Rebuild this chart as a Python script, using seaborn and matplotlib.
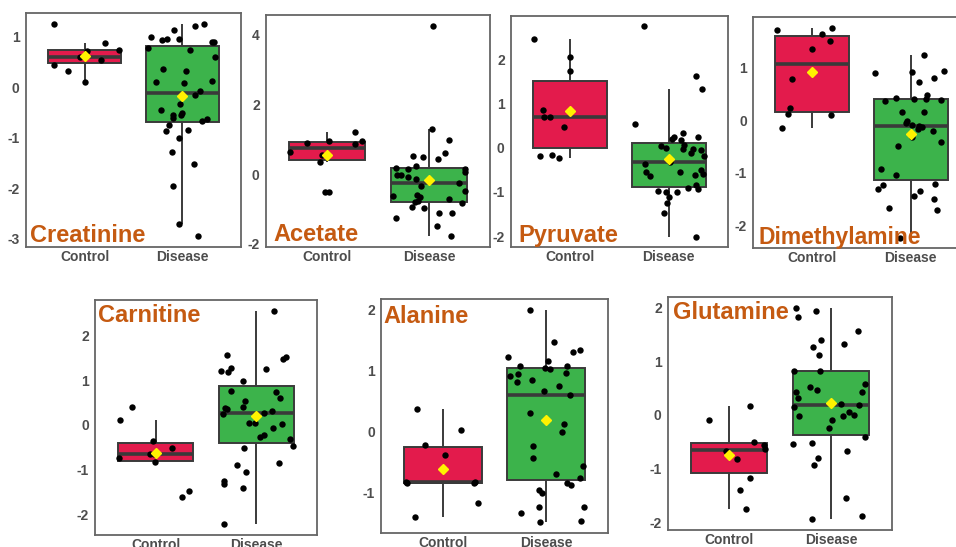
import numpy as np
import pandas as pd
import matplotlib
matplotlib.use("Agg")
import matplotlib.pyplot as plt
from matplotlib.ticker import MultipleLocator
import seaborn as sns

# ---- data: scaled metabolite levels per subject ----
groups = ["Control", "Disease"]

creatinine_control = [1.26, 0.88, 0.59, 0.55, 0.74, 0.72, 0.59, 0.45, 0.33, 0.11]
creatinine_disease = [1.21, 1.25, 1.14, 0.99, 0.95, 0.90, 0.93, 0.95, 0.90, 0.78, 0.73, 0.59,
                      0.36, 0.33, 0.13, 0.11, 0.08, -0.07, -0.16, -0.33, -0.44, -0.51, -0.55,
                      -0.55, -0.61, -0.62, -0.66, -0.74, -0.84, -0.86, -1.01, -1.29, -1.51,
                      -1.96, -2.70, -2.95]

acetate_control = [1.21, 0.96, 0.87, 0.94, 0.89, 0.63, 0.54, 0.36, -0.52, -0.50]
acetate_disease = [4.27, 1.31, 0.99, 0.61, 0.44, 0.50, 0.52, 0.16, 0.22, 0.16, 0.18, 0.06,
                   -0.01, -0.14, -0.02, -0.09, -0.35, -0.25, -0.60, -0.49, -0.64, -0.78,
                   -0.65, -0.72, -0.82, -0.80, -0.98, -0.93, -1.13, -1.11, -1.26, -1.48, -1.79]

pyruvate_control = [2.47, 2.05, 1.73, 0.86, 0.69, 0.69, 0.48, -0.17, -0.18, -0.23]
pyruvate_disease = [2.75, 1.63, 1.34, 0.54, 0.33, 0.24, 0.24, 0.18, 0.20, 0.06, 0.05, -0.03,
                    -0.03, 0.00, -0.05, -0.11, -0.18, -0.36, -0.32, -0.51, -0.54, -0.62,
                    -0.59, -0.55, -0.64, -0.84, -0.94, -0.92, -0.97, -0.99, -0.99, -1.11,
                    -1.25, -1.48, -2.01]

dimethylamine_control = [1.76, 1.72, 1.64, 1.50, 1.35, 0.79, 0.24, 0.10, 0.12, -0.14]
dimethylamine_disease = [1.23, 0.93, 0.90, 0.91, 0.80, 0.72, 0.47, 0.43, 0.38, 0.40, 0.40,
                         0.36, 0.15, 0.16, -0.01, -0.05, -0.11, -0.10, -0.13, -0.16, -0.20,
                         -0.32, -0.41, -0.49, -0.93, -1.05, -1.24, -1.22, -1.30, -1.35, -1.45,
                         -1.50, -1.66, -1.70, -2.23]

carnitine_control = [0.41, 0.10, -0.36, -0.52, -0.65, -0.64, -0.74, -0.83, -1.48, -1.60]
carnitine_disease = [2.55, 1.56, 1.52, 1.47, 1.27, 1.24, 1.21, 1.17, 0.98, 0.76, 0.74, 0.61,
                     0.54, 0.40, 0.36, 0.37, 0.31, 0.27, 0.24, 0.05, 0.04, 0.01, -0.08, -0.23,
                     -0.27, -0.31, -0.48, -0.51, -0.89, -0.84, -1.26, -1.05, -1.33, -1.42, -2.22]

alanine_control = [0.37, 0.02, -0.22, -0.38, -0.83, -0.83, -0.85, -0.85, -1.18, -1.40]
alanine_disease = [2.00, 1.47, 1.34, 1.30, 1.23, 1.15, 1.02, 1.05, 1.08, 1.08, 0.96, 0.91,
                   0.95, 0.82, 0.84, 0.74, 0.66, 0.60, 0.31, 0.13, -0.01, -0.24, -0.43, -0.57,
                   -0.70, -0.76, -0.84, -0.88, -0.96, -1.01, -1.23, -1.24, -1.33, -1.46, -1.49]

glutamine_control = [0.17, -0.10, -0.51, -0.57, -0.64, -0.68, -0.82, -1.18, -1.40, -1.75]
glutamine_disease = [2.00, 1.93, 1.83, 1.56, 1.40, 1.33, 1.27, 1.12, 0.81, 0.81, 0.57, 0.51,
                     0.47, 0.42, 0.42, 0.32, 0.20, 0.18, 0.15, 0.06, 0.00, -0.02, -0.02, -0.09,
                     -0.25, -0.42, -0.55, -0.53, -0.67, -0.81, -0.94, -1.56, -1.89, -1.95]

metabolites = ["Creatinine", "Acetate", "Pyruvate", "Dimethylamine",
               "Carnitine", "Alanine", "Glutamine"]
control_values = [creatinine_control, acetate_control, pyruvate_control, dimethylamine_control,
                  carnitine_control, alanine_control, glutamine_control]
disease_values = [creatinine_disease, acetate_disease, pyruvate_disease, dimethylamine_disease,
                  carnitine_disease, alanine_disease, glutamine_disease]

# ---- layout (pixels) ----
W, H = 956, 547
# axes frame: left, top, right, bottom
frames = [(26, 13, 241, 247), (266, 15, 490, 247), (511, 16, 728, 247), (753, 17, 970, 248),
          (95, 300, 317, 535), (381, 299, 608, 533), (668, 297, 892, 530)]
# metabolite name: left x, baseline y, font size
name_pos = [(30, 242, 17), (273, 241, 17), (518, 242, 17), (758, 244, 16.5),
            (98, 322, 17), (383, 323, 17), (673, 319, 17)]
y_steps = [1, 2, 1, 1, 1, 1, 1]

box_colors = {"Control": "#E31B4C", "Disease": "#3CB34B"}
edge = "#3a3a3a"
text_gray = "#4d4d4d"
name_color = "#C55A11"

sns.set_theme(style="white")
plt.rcParams["font.family"] = ["Liberation Sans", "DejaVu Sans"]
plt.rcParams["axes.unicode_minus"] = False

fig = plt.figure(figsize=(W / 100, H / 100), dpi=100)

for i, name in enumerate(metabolites):
    ctrl, dis = control_values[i], disease_values[i]
    df = pd.DataFrame({
        "group": ["Control"] * len(ctrl) + ["Disease"] * len(dis),
        "value": list(ctrl) + list(dis),
    })
    l, t, r, b = frames[i]
    ax = fig.add_axes([l / W, 1 - b / H, (r - l) / W, (b - t) / H])

    sns.boxplot(data=df, x="group", y="value", hue="group", order=groups,
                hue_order=groups, palette=box_colors, saturation=1, width=0.75,
                showfliers=False, showmeans=True, legend=False, linecolor=edge,
                linewidth=1.4,
                medianprops=dict(color=edge, linewidth=2.6),
                whiskerprops=dict(color=edge, linewidth=1.4),
                capprops=dict(linewidth=0),
                meanprops=dict(marker="D", markerfacecolor="#FFF200",
                               markeredgecolor="#FFF200", markersize=5, zorder=5),
                ax=ax)
    np.random.seed(7 + i)
    sns.stripplot(data=df, x="group", y="value", order=groups, color="black",
                  jitter=0.37, size=4.6, linewidth=0, zorder=4, ax=ax)

    ax.set_xlim(-0.6, 1.6)
    ax.margins(y=0.05)
    ax.yaxis.set_major_locator(MultipleLocator(y_steps[i]))
    ax.set_xlabel("")
    ax.set_ylabel("")
    ax.set_facecolor("white")
    for s in ax.spines.values():
        s.set_color("#666666")
        s.set_linewidth(1.3)
    ax.tick_params(axis="y", length=3, width=1, color="#555555",
                   labelcolor=text_gray, labelsize=10, pad=1.5)
    ax.tick_params(axis="x", length=2, width=1, color="#555555",
                   labelcolor=text_gray, labelsize=10, pad=0.5)
    for lab in ax.get_xticklabels() + ax.get_yticklabels():
        lab.set_fontweight("bold")
    ax.grid(False)

    x0, yb, fs = name_pos[i]
    fig.text(x0 / W, 1 - yb / H, name, color=name_color, fontsize=fs,
             fontweight="bold", ha="left", va="baseline")

fig.savefig("out.png", dpi=100, facecolor="white")
